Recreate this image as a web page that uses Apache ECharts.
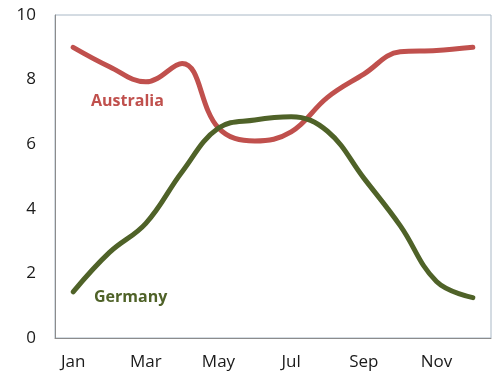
<!DOCTYPE html>
<html><head><meta charset="utf-8">
<script src="https://cdn.jsdelivr.net/npm/echarts@6/dist/echarts.min.js"></script>
<style>html,body{margin:0;padding:0;background:#fff}#c{width:503px;height:381px}</style>
</head><body><div id="c"></div>
<script>
const months = ['Jan','Feb','Mar','Apr','May','Jun','Jul','Aug','Sep','Oct','Nov','Dec'];
const australia = [9.0, 8.4, 7.93, 8.5, 6.5, 6.1, 6.38, 7.45, 8.17, 8.86, 8.9, 9.0];
const germany = [1.43, 2.65, 3.55, 5.15, 6.5, 6.75, 6.85, 6.4, 4.95, 3.48, 1.75, 1.25];
const yTicks = [0, 2, 4, 6, 8, 10];

const chart = echarts.init(document.getElementById('c'));
chart.setOption({
  animation: false,
  grid: {left: 55, right: 12, top: 15, bottom: 43, show: true, borderColor: '#A9B8C6', borderWidth: 1},
  xAxis: {
    type: 'category', data: months, boundaryGap: true,
    axisLine: {lineStyle: {color: '#8C8C8C', width: 1}},
    axisTick: {show: false},
    axisLabel: {interval: 1, color: '#1a1a1a', fontSize: 17, fontFamily: 'Open Sans', margin: 16}
  },
  yAxis: {
    type: 'value', min: yTicks[0], max: yTicks[yTicks.length-1], interval: 2,
    axisLine: {show: true, lineStyle: {color: '#8C8C8C', width: 1}},
    axisTick: {show: false}, splitLine: {show: false},
    axisLabel: {color: '#1a1a1a', fontSize: 17, fontFamily: 'Open Sans', margin: 19}
  },
  series: [
    {name: 'Australia', type: 'line', data: australia, smooth: 0.4, symbol: 'none',
     lineStyle: {color: '#C0504D', width: 5, cap: 'round'}},
    {name: 'Germany', type: 'line', data: germany, smooth: 0.4, symbol: 'none',
     lineStyle: {color: '#4F6228', width: 5, cap: 'round'}}
  ],
  graphic: [
    {type: 'text', left: 91, top: 93, style: {text: 'Australia', fill: '#C0504D', font: 'bold 16px "Open Sans"'}},
    {type: 'text', left: 94, top: 289, style: {text: 'Germany', fill: '#4F6228', font: 'bold 16px "Open Sans"'}}
  ]
});
</script></body></html>
